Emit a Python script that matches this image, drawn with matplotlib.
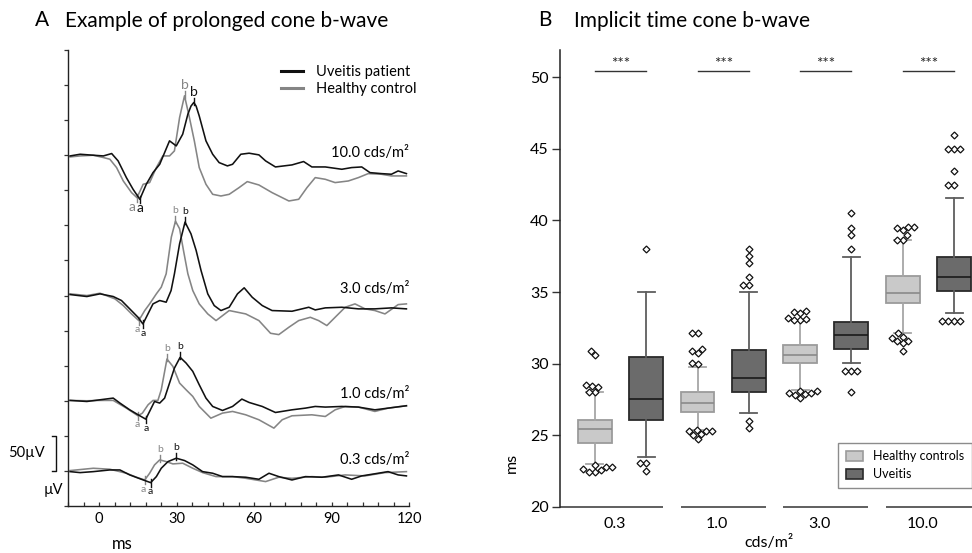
import numpy as np
import matplotlib
matplotlib.use("Agg")
import matplotlib.pyplot as plt
import matplotlib.transforms as mtransforms
from matplotlib.ticker import MultipleLocator
from matplotlib.patches import Patch
from matplotlib.lines import Line2D

plt.rcParams['font.family'] = ['Lato', 'DejaVu Sans']

# ---------------------------------------------------------------
# Panel A data: example cone ERG responses (time ms, amplitude µV)
# ---------------------------------------------------------------
flash_labels = ['0.3', '1.0', '3.0', '10.0']

t_pat_03 = [-11.2, -7.3, -2.2, 4.2, 8.1, 11.9, 16.4, 20.0, 22.2, 24.1, 26.7, 29.9, 33.1, 36.3,
            40.1, 44.0, 47.8, 51.7, 56.8, 61.9, 65.8, 69.6, 74.7, 79.9, 86.3, 92.7, 97.8,
            101.7, 108.1, 111.9, 115.8, 119.0]
v_pat_03 = [-1, -2.4, -1, 1.4, 1.4, -5.7, -11.9, -16.7, -8.1, 3.8, 13.3, 18.1, 14.8, 8.6,
            -1, -3.3, -8.1, -8.1, -9, -11.9, -3.3, -8.1, -12.9, -8.1, -9, -5.7, -11.9,
            -7.1, -3.3, -1, -5.7, -7.1]
t_ctl_03 = [-11.2, -2.2, 4.2, 10.6, 14.5, 17.7, 19.6, 21.5, 23.5, 26.0, 28.6, 32.4, 36.3,
            40.1, 45.3, 51.7, 56.8, 64.5, 69.6, 74.7, 82.4, 87.6, 95.3, 103.0, 110.7, 119.0]
v_ctl_03 = [0.5, 3.8, 2.4, -3.3, -9, -12.9, -3.3, 8.6, 15.7, 13.3, 10, 11, 3.8,
            -2.4, -8.1, -8.1, -10.5, -15.2, -9, -10.5, -8.1, -9, -5.7, -7.1, -2.4, -1]

t_pat_10 = [-11.2, -4.7, 0.4, 5.5, 8.1, 11.9, 15.8, 18.1, 19.9, 21.5, 23.5, 25.4, 27.3, 29.2,
            31.4, 33.7, 36.3, 38.8, 41.4, 44.0, 47.8, 51.7, 55.3, 58.1, 63.2, 68.3, 74.7,
            79.9, 83.7, 87.6, 94.0, 100.4, 106.8, 111.9, 119.0]
v_pat_10 = [0.5, -1, 1.4, 3.8, -3.3, -12.9, -21.4, -26.2, -12.9, -1, -3.3, 3.8, 25.2, 46.6,
            61.9, 53.8, 41.9, 22.8, 3.8, -8.1, -13.8, -8.1, 2.4, -2.4, -8.1, -16.7, -12.9,
            -10.5, -8.1, -9, -8.1, -9, -12.9, -10.5, -7.1]
t_ctl_10 = [-11.2, -4.7, 0.4, 5.5, 10.6, 15.1, 16.8, 19.0, 20.9, 22.8, 24.1, 26.3, 28.6,
            31.2, 33.7, 36.3, 38.8, 43.3, 47.8, 51.7, 56.8, 61.9, 67.7, 70.9, 74.7, 82.4,
            87.6, 91.4, 95.3, 100.4, 106.8, 111.9, 119.0]
v_ctl_10 = [0.5, 0, 0.5, 0.5, -10.5, -21.4, -17.6, -5.7, 0.5, 0.5, 15.7, 59.5, 49,
            25.2, 15.7, 6.2, -8.1, -24.8, -17.6, -15.2, -20, -27.1, -39, -27.1, -21.4, -20,
            -22.4, -12.9, -8.1, -9, -15.2, -10.5, -7.1]

t_pat_30 = [-11.2, -4.7, 0.4, 5.5, 8.7, 11.9, 15.1, 17.0, 20.9, 23.5, 26.0, 27.9, 29.2, 31.2,
            33.3, 35.6, 37.6, 39.5, 42.1, 44.6, 47.2, 50.4, 53.6, 56.2, 59.3, 63.2, 67.0,
            74.7, 81.2, 83.7, 87.6, 94.0, 100.4, 106.8, 113.2, 119.0]
v_pat_30 = [1.4, -1.4, 2.4, -1.4, -7.1, -19, -31, -40.5, -11.9, -7.1, -9.5, 7.1, 31, 73.8,
            104.7, 88, 64.3, 35.7, 2.4, -14.3, -21.4, -16.7, 2.4, 11, -2.4, -14.3, -21.4,
            -22.4, -16.7, -20.5, -17.6, -16.7, -19, -19, -17.6, -19]
t_ctl_30 = [-11.2, -4.7, 0.4, 6.2, 9.4, 12.6, 15.4, 17.7, 19.6, 22.2, 24.1, 26.0, 28.0, 29.6,
            31.2, 32.7, 34.4, 36.3, 38.8, 42.1, 45.3, 50.4, 56.8, 61.9, 66.4, 69.6, 73.5,
            77.3, 81.8, 85.0, 88.2, 91.4, 95.3, 99.1, 103.0, 106.8, 110.7, 115.8, 119.0]
v_ctl_30 = [2.4, 0, 3.3, -4.8, -14.3, -26.2, -35.7, -21.4, -11.9, 2.4, 11.9, 31, 83.3, 106,
            95.2, 64.3, 31, 7.1, -11.9, -26.2, -35.7, -21.4, -26.2, -35.7, -53.8, -55.7, -45.2,
            -35.7, -31, -35.7, -42.8, -31, -16.7, -11.9, -19, -21.4, -26.2, -12.9, -11.9]

t_pat_100 = [-11.2, -7.3, -2.2, 1.7, 4.9, 7.4, 10.6, 13.2, 15.8, 18.3, 20.9, 23.5, 27.3, 29.9,
             32.4, 34.4, 35.6, 36.7, 37.6, 38.8, 41.4, 44.0, 46.5, 49.7, 51.7, 54.9, 58.1,
             61.9, 64.5, 68.3, 74.7, 79.2, 82.4, 87.6, 94.0, 97.8, 101.7, 104.9, 109.3,
             113.2, 115.8, 119.0]
v_pat_100 = [-1, 1.4, 0, -1, 2.4, -8.1, -31.9, -48.6, -62.8, -41.4, -24.8, -12.9, 20.5, 13.3,
             30, 58.5, 70, 75.2, 70, 56, 20.5, 1.4, -10.5, -15.2, -12.9, 1.4, 2.9,
             0.5, -8.1, -16.7, -13.8, -9, -16.7, -16.7, -20, -17.6, -16.7, -24.8, -26.2,
             -27.1, -22.4, -26.2]
t_ctl_100 = [-11.2, -7.3, -2.2, 1.7, 4.2, 6.8, 9.4, 12.6, 14.7, 17.1, 19.6, 22.2, 24.7, 27.3,
             29.2, 31.2, 33.1, 35.0, 36.9, 38.8, 41.4, 44.0, 47.2, 50.4, 54.2, 57.4, 61.9,
             67.0, 73.5, 77.3, 80.5, 83.7, 87.6, 91.4, 96.5, 100.4, 104.2, 109.3, 113.2, 119.0]
v_ctl_100 = [-2.4, -1, 0, -3.3, -5.7, -17.6, -36.7, -53.3, -60.5, -41.4, -39, -17.6, -1, -1,
             6.2, 53.8, 84.7, 53.8, 20.5, -17.6, -41.4, -55.7, -58.1, -55.7, -46.2, -37.6, -42.4,
             -53.3, -65.2, -62.8, -46.2, -31.9, -34.3, -39, -36.7, -31.9, -26.2, -27.1, -29.5, -29.5]

# a- and b-wave implicit times (ms) marked on each trace
a_time_pat = [20.0, 18.1, 17.0, 15.8]
b_time_pat = [29.9, 31.4, 33.3, 36.7]
a_time_ctl = [17.7, 15.1, 15.4, 14.7]
b_time_ctl = [23.5, 26.3, 29.6, 33.1]

# ---------------------------------------------------------------
# Panel B data: implicit time of the cone b-wave (ms)
# ---------------------------------------------------------------
healthy_q1 = [24.5, 26.65, 30.07, 34.21]
healthy_med = [25.44, 27.23, 30.58, 34.95]
healthy_q3 = [26.09, 28.02, 31.28, 36.12]
healthy_whislo = [22.98, 25.37, 28.16, 32.16]
healthy_whishi = [28.0, 29.79, 33.0, 38.67]

uveitis_q1 = [26.05, 28.05, 31.02, 35.05]
uveitis_med = [27.51, 29.02, 32.0, 36.02]
uveitis_q3 = [30.49, 30.95, 32.93, 37.47]
uveitis_whislo = [23.51, 26.53, 30.02, 33.51]
uveitis_whishi = [35.0, 35.0, 37.47, 41.58]

healthy_outliers = [
    [30.6, 30.9, 28.47, 28.05, 28.05, 28.4, 28.5, 22.93, 22.77, 22.58, 22.47, 22.47, 22.63, 22.77],
    [32.16, 32.16, 30.9, 30.72, 31.0, 29.98, 30.07, 25.07, 25.3, 24.72, 25.3, 25.02, 25.37, 25.3],
    [33.16, 33.05, 33.05, 33.12, 33.63, 33.7, 33.56, 28.09, 27.98, 27.86, 27.63, 27.81, 27.93, 28.09],
    [39.56, 39.49, 39.37, 39.51, 38.98, 38.67, 38.67, 31.88, 31.6, 31.6, 31.42, 31.77, 32.12, 30.91],
]
uveitis_outliers = [
    [38.0, 23.05, 23.05, 22.51],
    [38.0, 37.51, 37.0, 36.02, 35.49, 35.49, 26.02, 25.53],
    [40.49, 39.49, 38.98, 38.0, 29.51, 29.51, 29.51, 28.0],
    [45.98, 45.0, 45.0, 45.0, 43.47, 42.47, 42.47, 33.0, 33.0, 33.0, 33.0],
]
significance = ['***', '***', '***', '***']

# ---------------------------------------------------------------
# Styling
# ---------------------------------------------------------------
PAT_COLOR = '#111111'
CTL_COLOR = '#858585'
H_FACE, H_EDGE, H_MED, H_WHISK = '#c9c9c9', '#9b9b9b', '#8a8a8a', '#a6a6a6'
U_FACE, U_EDGE, U_MED, U_WHISK = '#6b6b6b', '#2a2a2a', '#1a1a1a', '#5e5e5e'

W, H = 972, 553
fig = plt.figure(figsize=(W / 100, H / 100), dpi=100)

# ======================= Panel A ===============================
axA = fig.add_axes([68 / W, 1 - 506 / H, (409 - 68) / W, (506 - 50) / H])
axA.set_xlim(-12, 120)
axA.set_ylim(0, 650)

trace_offsets = [50, 150, 300, 500]        # vertical stacking of the four flash strengths
label_raise = [15, 9, 9, 3]
letter_size = [7.5, 7.5, 7.5, 10]
ctl_a_shift = [-0.6, -0.4, -0.6, -1.8]     # keeps the two "a" letters apart

patient = [(t_pat_03, v_pat_03), (t_pat_10, v_pat_10), (t_pat_30, v_pat_30), (t_pat_100, v_pat_100)]
control = [(t_ctl_03, v_ctl_03), (t_ctl_10, v_ctl_10), (t_ctl_30, v_ctl_30), (t_ctl_100, v_ctl_100)]

for i, lab in enumerate(flash_labels):
    off = trace_offsets[i]
    for (t, v), col, ta, tb, shift in ((control[i], CTL_COLOR, a_time_ctl[i], b_time_ctl[i], ctl_a_shift[i]),
                                       (patient[i], PAT_COLOR, a_time_pat[i], b_time_pat[i], 0.0)):
        t = np.asarray(t, float)
        v = np.asarray(v, float) + off
        axA.plot(t, v, color=col, lw=1.15, solid_joinstyle='round')
        va_ = np.interp(ta, t, v)
        vb_ = np.interp(tb, t, v)
        axA.plot([ta, ta], [va_ - 6, va_ + 5], color=col, lw=1.0)
        axA.plot([tb, tb], [vb_ - 3, vb_ + 7], color=col, lw=1.0)
        axA.text(ta + shift, va_ - 13, 'a', color=col, fontsize=letter_size[i], ha='center', va='center')
        axA.text(tb, vb_ + 15, 'b', color=col, fontsize=letter_size[i], ha='center', va='center')
    axA.text(120, off + label_raise[i], f'{lab} cds/m²', ha='right', va='center', fontsize=10.5)

axA.spines['top'].set_visible(False)
axA.spines['right'].set_visible(False)
for s in ('left', 'bottom'):
    axA.spines[s].set_linewidth(1.0)
    axA.spines[s].set_color('#222222')
axA.set_xticks([0, 30, 60, 90, 120])
axA.xaxis.set_minor_locator(MultipleLocator(6))
axA.tick_params(axis='x', which='both', direction='in', length=3, width=0.9,
                labelsize=10.5, pad=4, color='#333333')
axA.set_yticks(np.arange(0, 651, 50))
axA.tick_params(axis='y', direction='out', length=3, width=0.9, labelleft=False, color='#333333')

legA = axA.legend(handles=[Line2D([], [], color=PAT_COLOR, lw=2.2),
                           Line2D([], [], color=CTL_COLOR, lw=2.2)],
                  labels=['Uveitis patient', 'Healthy control'],
                  loc='upper left', bbox_to_anchor=(274 / W, 1 - 58 / H),
                  bbox_transform=fig.transFigure, frameon=False, fontsize=10.5,
                  handlelength=1.5, handletextpad=0.9, labelspacing=0.2, borderpad=0)

# scale bar for 50 µV
bt = mtransforms.blended_transform_factory(axA.transAxes, axA.transData)
bx0, bx1 = -0.047, -0.036
axA.plot([bx0, bx1, bx1, bx0], [100, 100, 50, 50], color='#111111', lw=1.0,
         transform=bt, clip_on=False)
fig.text(45 / W, 1 - 453 / H, '50µV', ha='right', va='center', fontsize=10.5)
fig.text(63 / W, 1 - 490 / H, 'µV', ha='right', va='center', fontsize=10.5)
fig.text(122 / W, 1 - 544 / H, 'ms', ha='center', va='center', fontsize=12)

fig.text(35 / W, 1 - 20 / H, 'A', ha='left', va='center', fontsize=15)
fig.text(65 / W, 1 - 21 / H, 'Example of prolonged cone b-wave', ha='left', va='center', fontsize=15)

# ======================= Panel B ===============================
axB = fig.add_axes([560 / W, 1 - 507 / H, (W - 560) / W, (507 - 50) / H])
axB.set_xlim(-0.68, 7.35)
axB.set_ylim(20, 51.9)

n = len(flash_labels)
pos_h = [2 * g for g in range(n)]
pos_u = [2 * g + 1 for g in range(n)]
box_w = 0.66

stats_h = [dict(med=healthy_med[g], q1=healthy_q1[g], q3=healthy_q3[g],
                whislo=healthy_whislo[g], whishi=healthy_whishi[g], fliers=[]) for g in range(n)]
stats_u = [dict(med=uveitis_med[g], q1=uveitis_q1[g], q3=uveitis_q3[g],
                whislo=uveitis_whislo[g], whishi=uveitis_whishi[g], fliers=[]) for g in range(n)]

for stats, pos, face, edge, med, wh in ((stats_h, pos_h, H_FACE, H_EDGE, H_MED, H_WHISK),
                                        (stats_u, pos_u, U_FACE, U_EDGE, U_MED, U_WHISK)):
    axB.bxp(stats, positions=pos, widths=box_w, patch_artist=True, showfliers=False,
            manage_ticks=False, capwidths=0.33,
            boxprops=dict(facecolor=face, edgecolor=edge, linewidth=1.3),
            medianprops=dict(color=med, linewidth=1.2),
            whiskerprops=dict(color=wh, linewidth=1.3),
            capprops=dict(color=wh, linewidth=1.3))


def swarm_offsets(ax, values, d_px=6.0):
    """Spread close-lying points sideways so that the markers do not overlap."""
    sx = ax.transData.transform((1, 0))[0] - ax.transData.transform((0, 0))[0]
    pys = [ax.transData.transform((0, v))[1] for v in values]
    order = np.argsort(values, kind='stable')
    placed = []
    offs = np.zeros(len(values))
    for k in order:
        py = pys[k]
        cands = [0.0]
        for (xo, yo) in placed:
            dy = py - yo
            if abs(dy) < d_px:
                dx = np.sqrt(d_px ** 2 - dy ** 2)
                cands += [xo + dx, xo - dx]
        cands.sort(key=lambda c: (abs(c), c))
        for c in cands:
            if all((c - xo) ** 2 + (py - yo) ** 2 >= d_px ** 2 - 1e-6 for xo, yo in placed):
                break
        placed.append((c, py))
        offs[k] = c / sx
    return offs


for g in range(n):
    for center, vals in ((pos_h[g], healthy_outliers[g]), (pos_u[g], uveitis_outliers[g])):
        vals = np.asarray(vals, float)
        xo = swarm_offsets(axB, vals)
        axB.plot(center + xo, vals, ls='none', marker='D', markersize=3.5,
                 markerfacecolor='white', markeredgecolor='#111111', markeredgewidth=0.9,
                 zorder=5, clip_on=False)

# significance bars
for g in range(n):
    axB.plot([pos_h[g], pos_u[g]], [50.4, 50.4], color='#333333', lw=1.0)
    axB.text((pos_h[g] + pos_u[g]) / 2, 50.95, significance[g], ha='center', va='center',
             fontsize=11, color='#222222')

# axes styling
for s in ('top', 'right', 'bottom'):
    axB.spines[s].set_visible(False)
axB.spines['left'].set_linewidth(1.1)
axB.spines['left'].set_color('#222222')
axB.set_yticks([20, 25, 30, 35, 40, 45, 50])
axB.tick_params(axis='y', direction='out', length=6, width=1.0, labelsize=11.5, pad=2,
                color='#333333')
axB.set_xticks([2 * g + 0.38 for g in range(n)])
axB.set_xticklabels(flash_labels)
axB.tick_params(axis='x', length=0, labelsize=11.5, pad=7)

# split baseline under each flash-strength group
x_lo, x_hi = axB.get_xlim()
for g in range(n):
    a = x_lo if g == 0 else pos_h[g] - box_w / 2
    b = x_hi if g == n - 1 else pos_u[g] + box_w / 2
    axB.plot([a, b], [20, 20], color='#444444', lw=1.2, clip_on=False, solid_capstyle='butt')

legB = axB.legend(handles=[Patch(facecolor=H_FACE, edgecolor=H_EDGE, linewidth=1.2),
                           Patch(facecolor=U_FACE, edgecolor=U_EDGE, linewidth=1.2)],
                  labels=['Healthy controls', 'Uveitis'],
                  loc='upper left', bbox_to_anchor=(838 / W, 1 - 443 / H),
                  bbox_transform=fig.transFigure, fontsize=9, frameon=True, fancybox=False,
                  edgecolor='#6f6f6f', handlelength=1.4, handleheight=0.8,
                  handletextpad=0.8, labelspacing=0.45, borderpad=0.6, borderaxespad=0)
legB.get_frame().set_linewidth(1.0)

fig.text(512 / W, 1 - 463 / H, 'ms', rotation=90, ha='center', va='center', fontsize=11.5)
fig.text(769 / W, 1 - 543 / H, 'cds/m²', ha='center', va='center', fontsize=11.5)

fig.text(538 / W, 1 - 20 / H, 'B', ha='left', va='center', fontsize=15)
fig.text(574 / W, 1 - 21 / H, 'Implicit time cone b-wave', ha='left', va='center', fontsize=15)

fig.savefig('out.png', dpi=100)
